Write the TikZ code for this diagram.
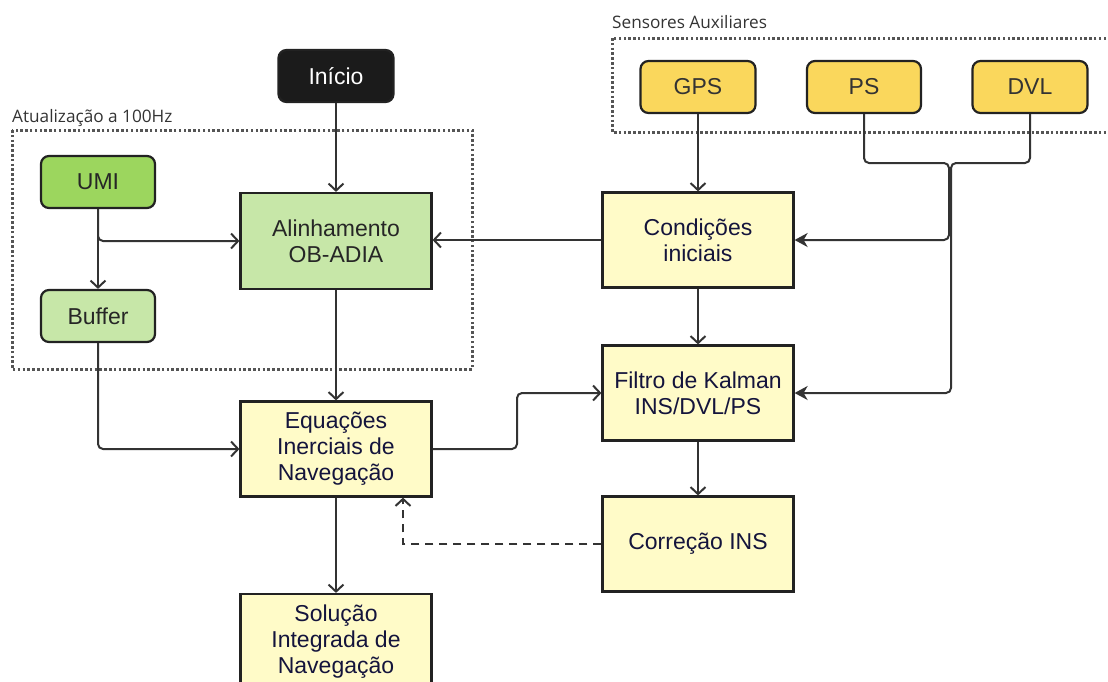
\documentclass[tikz,border=0pt]{standalone}
\usepackage{fontspec}
\setmainfont{Liberation Sans}
\newfontfamily\labelfont{Open Sans}
\usetikzlibrary{arrows.meta,calc}
\definecolor{linec}{HTML}{333333}
\definecolor{boxline}{HTML}{222222}
\definecolor{umifill}{HTML}{9CD65E}
\definecolor{lgreen}{HTML}{C7E7A8}
\definecolor{lyellow}{HTML}{FFFBC8}
\definecolor{sensfill}{HTML}{FAD75C}
\definecolor{navytext}{HTML}{14143C}
\definecolor{darkfill}{HTML}{1B1B1B}
\definecolor{dotc}{HTML}{555555}
\definecolor{labtext}{HTML}{333333}
\tikzset{
  x=1pt,y=-1pt,
  basebox/.style={draw=boxline, line width=2.2pt, align=center, inner sep=0pt,
    font=\fontsize{23}{26}\selectfont},
  roundbox/.style={basebox, rounded corners=8pt, minimum width=115pt, minimum height=52pt},
  bigbox/.style={basebox, minimum width=191pt, minimum height=95pt},
  greenbox/.style={bigbox, fill=lgreen, text=black!85},
  yellowbox/.style={bigbox, fill=lyellow, text=navytext},
  sensor/.style={roundbox, fill=sensfill, text=labtext},
  conn/.style={draw=linec, line width=2pt, -{Straight Barb[length=7pt,width=15pt,line width=2pt]}},
  fconn/.style={draw=linec, line width=2pt, rounded corners=5pt, -{Stealth[length=13pt,width=14pt,inset=4pt]}},
  groupbox/.style={draw=dotc, line width=3pt, dash pattern=on 2.5pt off 2.3pt},
  grouplabel/.style={font=\labelfont\fontsize{17.2}{20}\selectfont, text=labtext, inner sep=0pt, anchor=base west}
}
\begin{document}
\begin{tikzpicture}
\useasboundingbox (0,0) rectangle (1108,681);
\clip (0,0) rectangle (1108,681);
% group boxes
\draw[groupbox] (12,130) rectangle (472,369);
\node[grouplabel] (lab1) at (12,122) {Atualização a 100Hz};
\draw[groupbox] (612,38) rectangle (1125,132);
\node[grouplabel] (lab2) at (612,28) {Sensores Auxiliares};
% nodes
\node[roundbox, fill=darkfill, text=white] (inicio) at (336,76) {Início};
\node[roundbox, fill=umifill, text=black!85, minimum width=114pt] (umi) at (98,182) {UMI};
\node[roundbox, fill=lgreen, text=black!85, minimum width=114pt] (buffer) at (98,316) {Buffer};
\node[greenbox, minimum height=96pt] (alin) at (336,241) {Alinhamento\\OB-ADIA};
\node[yellowbox] (cond) at (698,240) {Condições\\iniciais};
\node[sensor] (gps) at (698,87) {GPS};
\node[sensor, minimum width=114pt] (ps) at (864,87) {PS};
\node[sensor] (dvl) at (1030,87) {DVL};
\node[yellowbox] (filtro) at (698,393) {Filtro de Kalman\\INS/DVL/PS};
\node[yellowbox] (equ) at (336,449) {Equações\\Inerciais de\\Navegação};
\node[yellowbox] (corr) at (698,544) {Correção INS};
\node[yellowbox, minimum height=96pt] (sol) at (336,642) {Solução\\Integrada de\\Navegação};
% helper coordinates
\coordinate (eqturn) at (517,449);
\coordinate (dashend) at ($(equ.south)+(67,0)$);
\coordinate (psj) at (949,163);
\coordinate (dvlj) at (951,163);
% connectors
\draw[conn] (inicio) -- (alin);
\draw[conn] (umi) -- (buffer);
\draw[conn, rounded corners=5pt] (umi.south) |- (alin.west);
\draw[conn] (cond.west) -- (cond.west -| alin.east);
\draw[conn] (alin) -- (equ);
\draw[conn, rounded corners=5pt] (buffer.south) |- (equ.west);
\draw[conn, rounded corners=5pt] (equ.east) -- (eqturn) |- (filtro.west);
\draw[conn] (gps) -- (cond);
\draw[conn] (cond) -- (filtro);
\draw[conn] (filtro) -- (corr);
\draw[conn, dash pattern=on 8pt off 6pt] (corr.west) -| (dashend);
\draw[conn] (equ) -- (sol);
\draw[fconn] (ps.south) |- (psj) |- (cond.east);
\draw[fconn] (dvl.south) |- (dvlj) |- (filtro.east);
\end{tikzpicture}
\end{document}
